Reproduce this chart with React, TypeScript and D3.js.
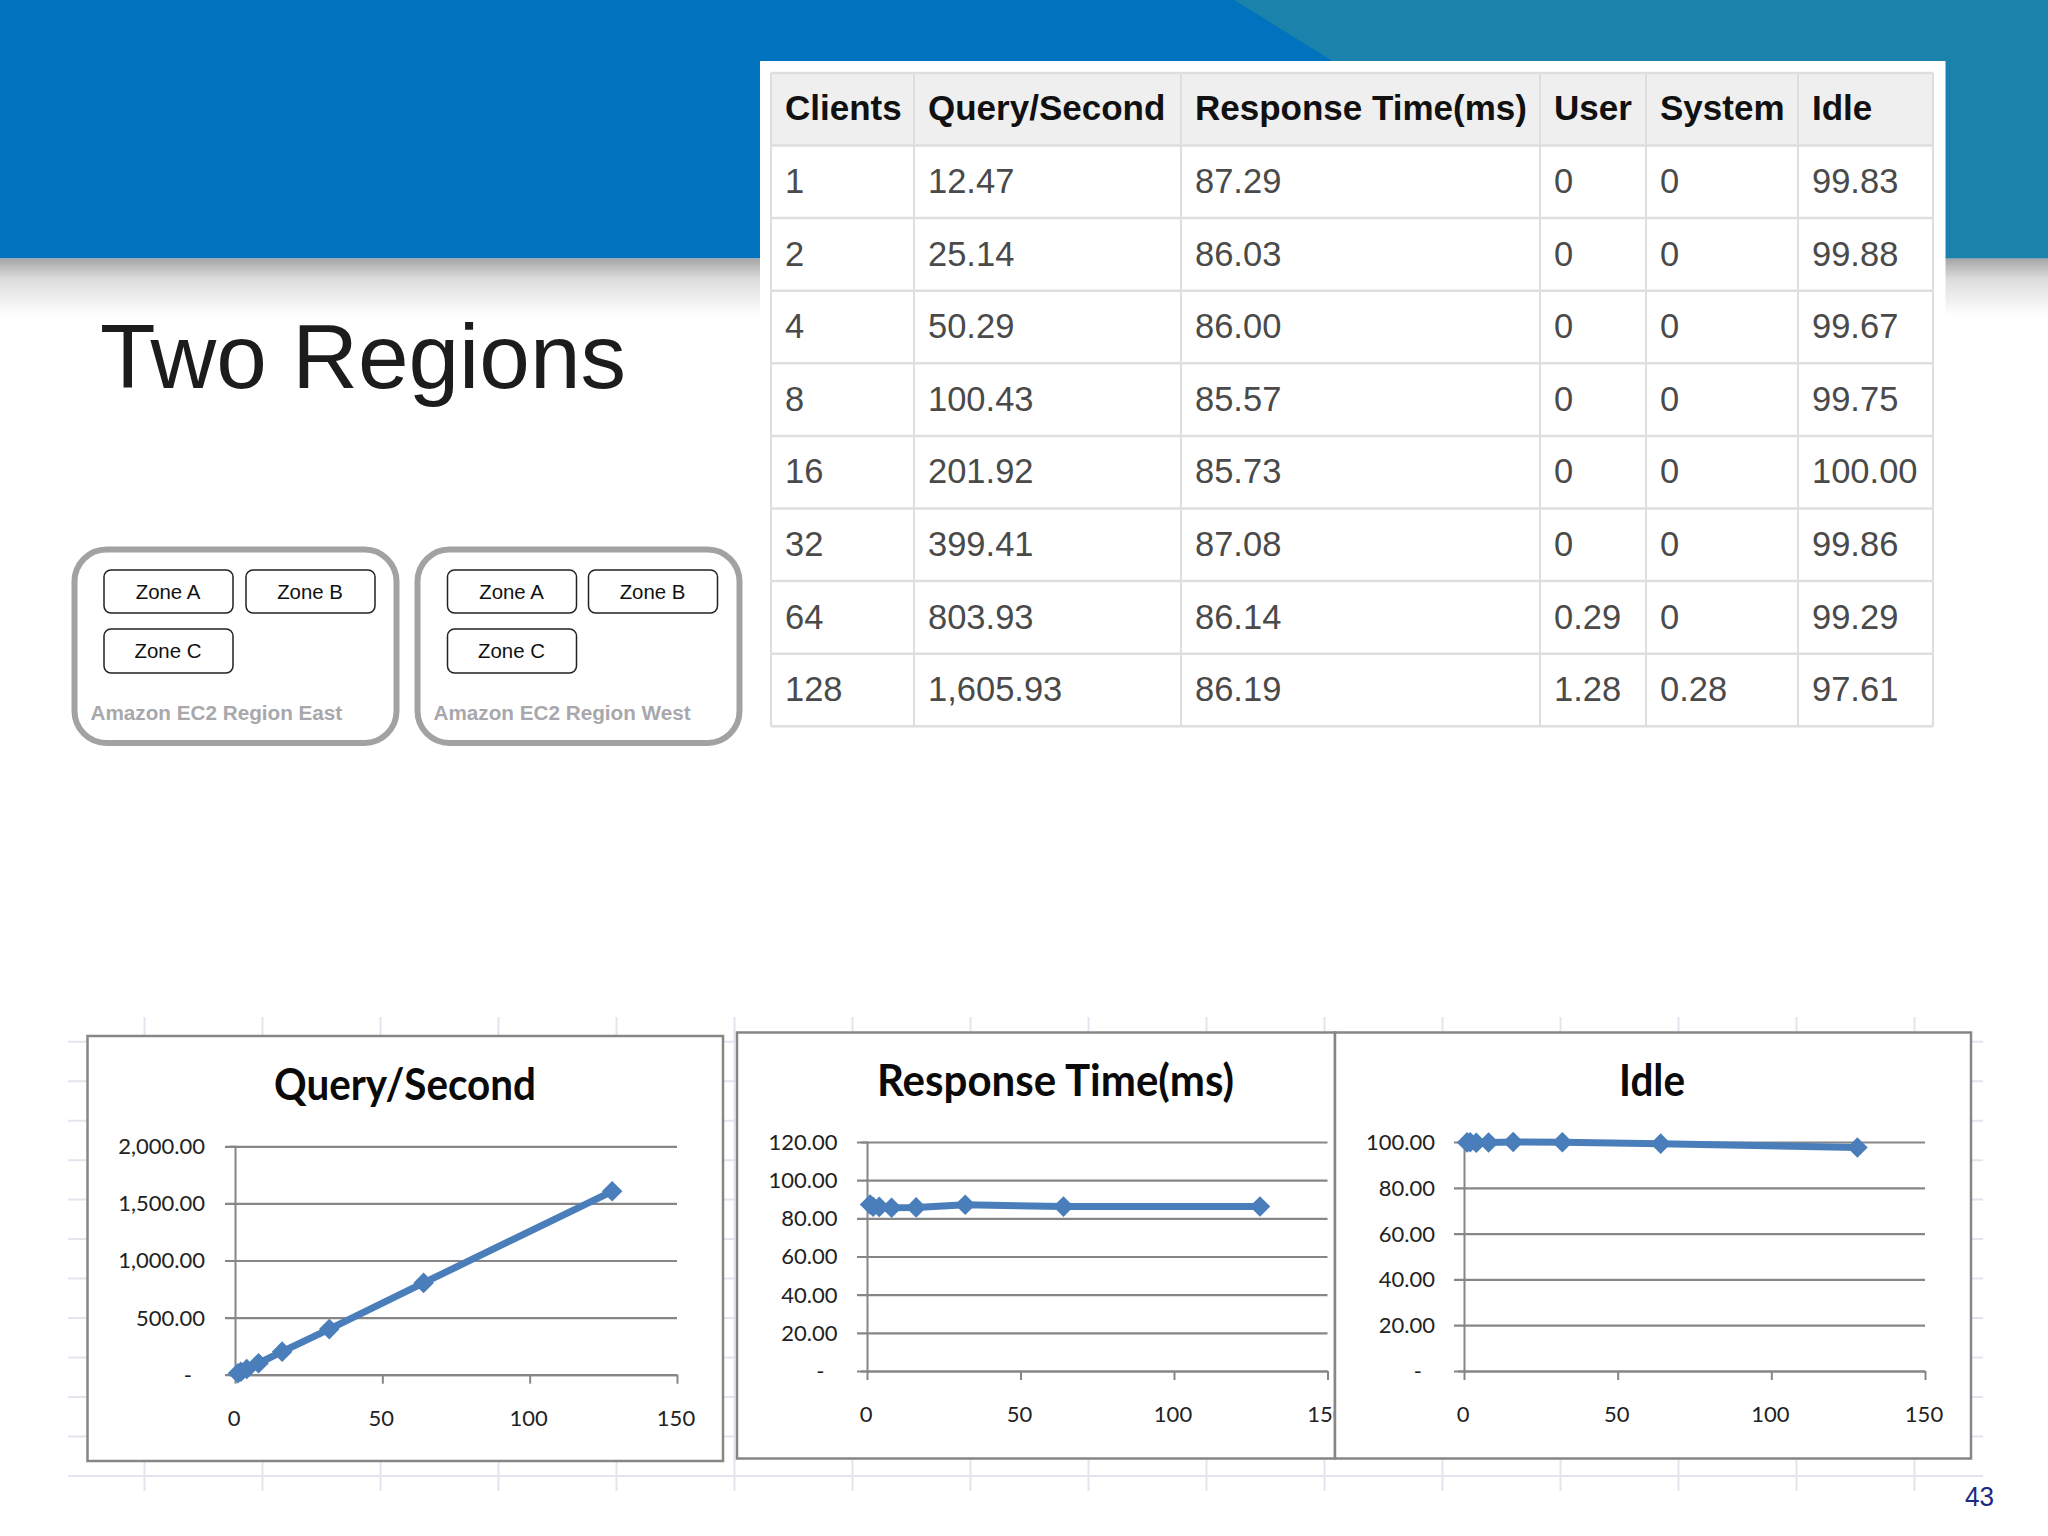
import * as d3 from "d3";
import React, { useEffect, useRef } from "react";

const clients = [1, 2, 4, 8, 16, 32, 64, 128];
const queryPerSecond = [12.47, 25.14, 50.29, 100.43, 201.92, 399.41, 803.93, 1605.93];
const responseTime = [87.29, 86.03, 86.0, 85.57, 85.73, 87.08, 86.14, 86.19];
const userCpu = [0, 0, 0, 0, 0, 0, 0.29, 1.28];
const systemCpu = [0, 0, 0, 0, 0, 0, 0, 0.28];
const idleCpu = [99.83, 99.88, 99.67, 99.75, 100.0, 99.86, 99.29, 97.61];

const tableHeaders = ["Clients", "Query/Second", "Response Time(ms)", "User", "System", "Idle"];
const xTicks = [0, 50, 100, 150];
const queryTicks = [0, 500, 1000, 1500, 2000];
const responseTicks = [0, 20, 40, 60, 80, 100, 120];
const idleTicks = [0, 20, 40, 60, 80, 100];
const zoneNames = ["Zone A", "Zone B", "Zone C"];

const BLUE = "#4a7ebb";
const AXIS = "#868686";
const fmt2 = d3.format(",.2f");
const cpuFmt = (v: number) => (v === 0 ? "0" : fmt2(v));

// table layout
const colEdges = [771, 914, 1181, 1540, 1646, 1798, 1933];
const rowTop = 73;
const headerBottom = 145.5;
const rowH = 72.6;

type ChartProps = {
  title: string;
  values: number[];
  yTicks: number[];
  frame: [number, number, number, number];
  xRange: [number, number];
  yRange: [number, number];
  titleX: number;
  titleY: number;
  titleLen: number;
  labelRight: number;
  labelY: number;
};

function LineChart({ title, values, yTicks, frame, xRange, yRange, titleX, titleY, titleLen, labelRight, labelY }: ChartProps) {
  const ref = useRef<SVGGElement>(null);

  useEffect(() => {
    const g = d3.select(ref.current);
    g.selectAll("*").remove();

    const [fx0, fy0, fx1, fy1] = frame;
    g.append("rect")
      .attr("x", fx0)
      .attr("y", fy0)
      .attr("width", fx1 - fx0)
      .attr("height", fy1 - fy0)
      .attr("fill", "#fff")
      .attr("stroke", AXIS)
      .attr("stroke-width", 2.5);

    g.append("text")
      .attr("x", titleX)
      .attr("y", titleY)
      .attr("text-anchor", "middle")
      .attr("textLength", titleLen)
      .attr("lengthAdjust", "spacingAndGlyphs")
      .attr("font-family", "Lato")
      .attr("font-weight", 700)
      .attr("font-size", 44)
      .attr("fill", "#0a0a0a")
      .text(title);

    const x = d3.scaleLinear().domain([0, 150]).range(xRange);
    const y = d3
      .scaleLinear()
      .domain([0, d3.max(yTicks) as number])
      .range(yRange);

    const yAxis = d3
      .axisLeft(y)
      .tickValues(yTicks)
      .tickFormat((d) => (+d === 0 ? "-" : fmt2(+d)));
    const yG = g.append("g").attr("transform", `translate(${xRange[0]},0)`).call(yAxis);
    yG.select(".domain").attr("stroke", AXIS).attr("stroke-width", 2);
    yG.selectAll(".tick line")
      .attr("x1", -10)
      .attr("x2", xRange[1] - xRange[0])
      .attr("stroke", AXIS)
      .attr("stroke-width", 2.2);
    yG.selectAll<SVGTextElement, number>(".tick text")
      .attr("x", labelRight - xRange[0])
      .attr("dy", "0.34em")
      .attr("font-family", "Lato")
      .attr("font-size", 22)
      .attr("fill", "#222")
      .filter((d) => d === 0)
      .attr("x", labelRight - xRange[0] - 13);

    const xAxis = d3
      .axisBottom(x)
      .tickValues(xTicks)
      .tickSizeInner(9)
      .tickSizeOuter(0)
      .tickFormat((d) => String(d));
    const xG = g.append("g").attr("transform", `translate(0,${yRange[0]})`).call(xAxis);
    xG.select(".domain").attr("stroke", AXIS).attr("stroke-width", 2);
    xG.selectAll(".tick line").attr("stroke", AXIS).attr("stroke-width", 2);
    xG.selectAll(".tick text")
      .attr("y", labelY - yRange[0])
      .attr("dy", 0)
      .attr("dx", -1.5)
      .attr("font-family", "Lato")
      .attr("font-size", 22)
      .attr("fill", "#222");

    const line = d3
      .line<number>()
      .x((_, i) => x(clients[i]))
      .y((d) => y(d));
    g.append("path")
      .datum(values)
      .attr("d", line)
      .attr("fill", "none")
      .attr("stroke", BLUE)
      .attr("stroke-width", 7);

    const diamond = d3.symbol().type(d3.symbolDiamond2).size(270);
    g.selectAll(".pt")
      .data(values)
      .enter()
      .append("path")
      .attr("class", "pt")
      .attr("d", diamond)
      .attr("transform", (d, i) => `translate(${x(clients[i])},${y(d)})`)
      .attr("fill", BLUE);
  }, []);

  return <g ref={ref} />;
}

function SheetGrid() {
  const ref = useRef<SVGGElement>(null);
  useEffect(() => {
    const g = d3.select(ref.current);
    const vx = d3.range(144.5, 1930, 118);
    const hy = d3.range(1041.7, 1480, 39.48);
    g.selectAll(".v")
      .data(vx)
      .enter()
      .append("line")
      .attr("x1", (d) => d)
      .attr("x2", (d) => d)
      .attr("y1", 1017)
      .attr("y2", 1491)
      .attr("stroke", "#e3e5ee")
      .attr("stroke-width", 2);
    g.selectAll(".h")
      .data(hy)
      .enter()
      .append("line")
      .attr("x1", 68)
      .attr("x2", 1983)
      .attr("y1", (d) => d)
      .attr("y2", (d) => d)
      .attr("stroke", "#e3e5ee")
      .attr("stroke-width", 2);
  }, []);
  return <g ref={ref} />;
}

function RegionBox({ x0, label, zoneX }: { x0: number; label: string; zoneX: [number, number] }) {
  const zones: [number, number, number][] = [
    [zoneX[0], 570, 43],
    [zoneX[1], 570, 43],
    [zoneX[0], 629, 44],
  ];
  return (
    <g>
      <rect x={x0} y={549.5} width={322} height={193.5} rx={32} fill="#fff" stroke="#a2a2a4" strokeWidth={6} />
      {zones.map(([zx, zy, zh], i) => (
        <g key={i}>
          <rect x={zx} y={zy} width={129} height={zh} rx={7} fill="#fff" stroke="#222" strokeWidth={1.5} />
          <text x={zx + 64} y={zy + 29} textAnchor="middle" fontFamily="Liberation Sans" fontSize={20.4} fill="#111">
            {zoneNames[i]}
          </text>
        </g>
      ))}
      <text x={x0 + 16} y={720} fontFamily="Liberation Sans" fontWeight={700} fontSize={20.7} fill="#a8a8ac">
        {label}
      </text>
    </g>
  );
}

export default function App() {
  const rows = clients.map((c, i) => [
    String(c),
    fmt2(queryPerSecond[i]),
    fmt2(responseTime[i]),
    cpuFmt(userCpu[i]),
    cpuFmt(systemCpu[i]),
    fmt2(idleCpu[i]),
  ]);
  const lineYs = [rowTop, headerBottom, ...clients.map((_, i) => headerBottom + rowH * (i + 1))];
  const tableBottom = lineYs[lineYs.length - 1];

  return (
    <svg width={2048} height={1536} style={{ position: "absolute", left: 0, top: 0, background: "#fff" }}>
      <defs>
        <linearGradient id="shadow" x1="0" y1="0" x2="0" y2="1">
          <stop offset="0" stopColor="#a6a6a6" />
          <stop offset="0.35" stopColor="#dcdcdc" />
          <stop offset="1" stopColor="#ffffff" />
        </linearGradient>
      </defs>

      <rect x={0} y={0} width={2048} height={258.5} fill="#0072be" />
      <polygon points="1234,0 2048,0 2048,258.5 1650,258.5" fill="#1a82ab" />
      <rect x={0} y={258.5} width={2048} height={58} fill="url(#shadow)" />

      <text x={100} y={388} fontFamily="Liberation Sans" fontSize={91} fill="#1c1c1c">
        Two Regions
      </text>

      <RegionBox x0={74.5} label="Amazon EC2 Region East" zoneX={[104, 246]} />
      <RegionBox x0={417.5} label="Amazon EC2 Region West" zoneX={[447.5, 588.5]} />

      <rect x={760} y={61} width={1185.5} height={684} fill="#fff" />
      <rect x={colEdges[0]} y={rowTop} width={colEdges[6] - colEdges[0]} height={headerBottom - rowTop} fill="#efefef" />
      {lineYs.map((y, i) => (
        <line key={i} x1={colEdges[0]} x2={colEdges[6]} y1={y} y2={y} stroke="#dedee0" strokeWidth={2.5} />
      ))}
      {colEdges.map((x, i) => (
        <line key={i} x1={x} x2={x} y1={rowTop} y2={tableBottom} stroke="#dedee0" strokeWidth={2} />
      ))}
      {tableHeaders.map((h, i) => (
        <text key={h} x={colEdges[i] + 14} y={120} fontFamily="Liberation Sans" fontWeight={700} fontSize={35} fill="#111">
          {h}
        </text>
      ))}
      {rows.map((r, ri) =>
        r.map((cell, ci) => (
          <text
            key={ci}
            x={colEdges[ci] + 14}
            y={headerBottom + rowH * ri + 47.5}
            fontFamily="Liberation Sans"
            fontSize={34.5}
            fill="#4a4a4a"
          >
            {cell}
          </text>
        ))
      )}

      <SheetGrid />
      <LineChart
        title="Query/Second"
        values={queryPerSecond}
        yTicks={queryTicks}
        frame={[87.5, 1036, 723, 1461]}
        xRange={[235, 677]}
        yRange={[1374.7, 1146.3]}
        titleX={405}
        titleY={1100}
        titleLen={262}
        labelRight={205}
        labelY={1426}
      />
      <LineChart
        title="Response Time(ms)"
        values={responseTime}
        yTicks={responseTicks}
        frame={[737, 1032.5, 1335, 1458.5]}
        xRange={[867, 1327.5]}
        yRange={[1371, 1142]}
        titleX={1055.5}
        titleY={1096}
        titleLen={357}
        labelRight={837.5}
        labelY={1422}
      />
      <LineChart
        title="Idle"
        values={idleCpu}
        yTicks={idleTicks}
        frame={[1335, 1032.5, 1971, 1458.5]}
        xRange={[1464, 1925]}
        yRange={[1371, 1142]}
        titleX={1652}
        titleY={1096}
        titleLen={66}
        labelRight={1435}
        labelY={1422}
      />

      <text x={1965} y={1506} fontFamily="Liberation Sans" fontSize={28} textLength={29} lengthAdjust="spacingAndGlyphs" fill="#1b2a80">
        43
      </text>
    </svg>
  );
}
